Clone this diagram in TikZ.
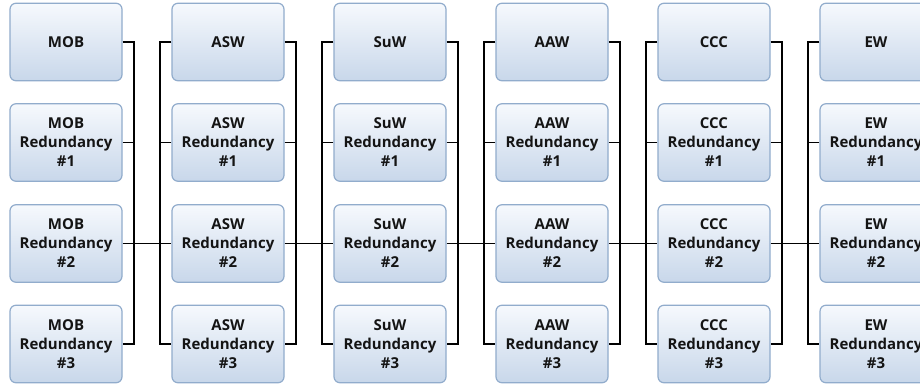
\documentclass[tikz,border=0pt]{standalone}
\usepackage{fontspec}
\setmainfont{Open Sans}
\begin{document}
\begin{tikzpicture}[x=1pt,y=-1pt,
  unitbox/.style={draw=boxedge, line width=1.2pt, rounded corners=6pt,
    top color=boxtop, bottom color=boxbottom,
    minimum width=112pt, minimum height=77.5pt, inner sep=0pt,
    align=center, font=\fontsize{15}{19}\selectfont\bfseries, text=black!92},
  link/.style={line width=1.9pt, black}]
\definecolor{boxedge}{RGB}{145,172,204}
\definecolor{boxtop}{RGB}{246,249,253}
\definecolor{boxbottom}{RGB}{200,215,234}
\clip (0,0) rectangle (920,385);
\fill[white] (0,0) rectangle (920,385);
% one column per mission area, each with three redundant units
\foreach \name [count=\i from 0] in {MOB,ASW,SuW,AAW,CCC,EW}{
  \pgfmathsetmacro\cx{66+162*\i}
  \node[unitbox] (c\i r1) at (\cx,42) {\name};
  \node[unitbox] (c\i r2) at (\cx,142.5) {\name\\Redundancy\\\#1};
  \node[unitbox] (c\i r3) at (\cx,243.5) {\name\\Redundancy\\\#2};
  \node[unitbox] (c\i r4) at (\cx,344) {\name\\Redundancy\\\#3};
}
% right-hand brackets
\foreach \i in {0,...,4}{
  \draw[link] (c\i r1.east) -- ++(11,0) coordinate (rb\i) -- (rb\i |- c\i r4.east) -- (c\i r4.east);
  \draw[link] (c\i r2.east) -- (c\i r2.east -| rb\i);
}
% left-hand brackets
\foreach \i in {1,...,5}{
  \draw[link] (c\i r1.west) -- ++(-11,0) coordinate (lb\i) -- (lb\i |- c\i r4.west) -- (c\i r4.west);
  \draw[link] (c\i r2.west) -- (c\i r2.west -| lb\i);
}
% links between neighbouring columns
\foreach \i [evaluate=\i as \j using int(\i+1)] in {0,...,4}{
  \draw[link] (c\i r3.east) -- (c\j r3.west);
}
\end{tikzpicture}
\end{document}
